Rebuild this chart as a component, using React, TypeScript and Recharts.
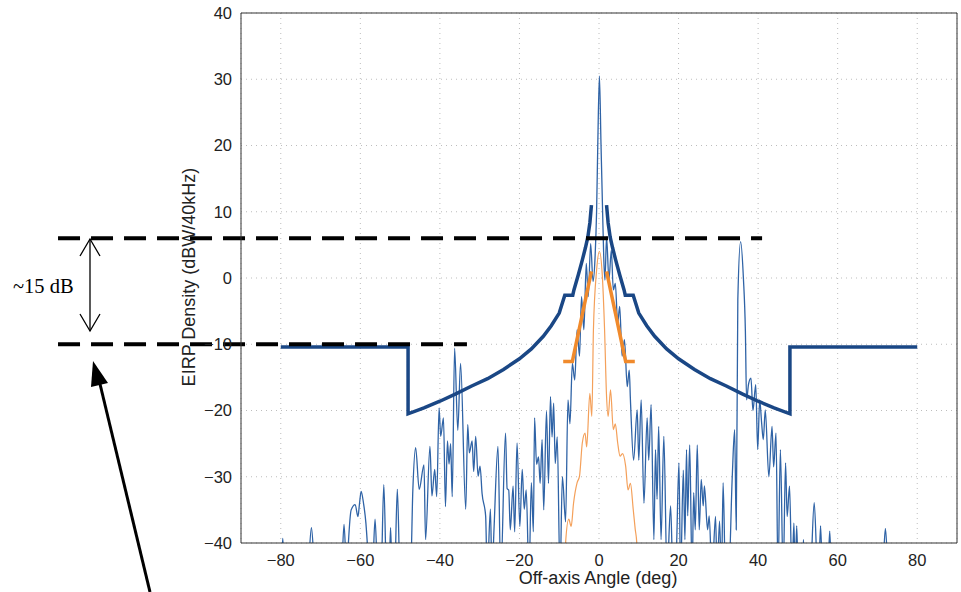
import React from "react";
import { CartesianGrid, Line, LineChart, ReferenceLine, XAxis, YAxis } from "recharts";

// thin blue: measured antenna pattern (deg, dBW/40kHz); -45 = below the floor
const blueAngles = [
  -82, -80, -79.5, -79, -73.3, -72.3, -71.3, -64.8, -64.1, -63.4, -63, -62.3, -61.3, -60.6, -60.2, -59.8, -59.2,
  -58.6, -58.2, -57.8, -57, -56.3, -55.6, -54.8, -54.1, -53.4, -52.8, -52.4, -52, -51.4, -50.7, -50, -47.4, -46.8,
  -46.1, -45.2, -44, -43.6, -42.5, -42, -41.3, -40.8, -40.2, -39.8, -39.1, -38.6, -38.1, -37.7, -37.3, -36.9, -36.3,
  -35.5, -34.8, -33.5, -33, -32.6, -31.9, -31.5, -31, -30.4, -29.9, -29.4, -28.5, -28.1, -27.3, -26.9, -26.4, -25.4,
  -24.7, -23.5, -23.1, -22.7, -22.3, -21.6, -21.2, -20.6, -19.9, -19.3, -18.8, -18.3, -17.6, -17, -16.5, -16.2,
  -15.7, -15.2, -14.8, -14.3, -13.9, -13.2, -12.7, -12.2, -11.8, -11.4, -11, -10.5, -9.8, -9.2, -8.4, -7.8, -7.3,
  -6.7, -6.1, -5.5, -4.9, -4.4, -3.8, -3.2, -2.7, -2.1, -1.5, -1, -0.6, -0.3, 0.1, 0.5, 0.9, 1.2, 1.5, 1.9, 2.5, 3.1,
  3.6, 4.1, 4.7, 5.2, 5.8, 6.4, 7.1, 7.6, 7.9, 8.7, 9.6, 10, 10.6, 11.3, 12.1, 12.5, 13.1, 13.8, 14.2, 14.6, 15,
  15.6, 16.3, 17.1, 18, 18.6, 19.4, 20.1, 20.5, 21.2, 21.6, 22, 22.3, 22.8, 23.4, 23.8, 24.2, 24.7, 25.2, 25.7, 26.2,
  26.5, 27.3, 27.7, 28.4, 29.3, 29.7, 30.3, 30.8, 31.2, 31.8, 32.6, 33.5, 34.1, 34.5, 34.9, 35.6, 36.3, 36.8, 37.1,
  37.6, 38.2, 38.7, 39.4, 39.9, 40.4, 40.9, 41.3, 41.8, 42.7, 43.5, 43.9, 44.5, 45, 45.6, 46.3, 46.9, 47.3, 47.9,
  48.5, 49, 49.3, 49.7, 50.1, 51, 51.4, 51.8, 53.1, 54.1, 55, 55.2, 55.7, 56.2, 57.5, 58, 58.5, 71.2, 72, 72.8, 80,
];
const blueLevels = [
  -45, -45, -39.3, -45, -45, -37.7, -45, -45, -37.2, -45, -40, -35, -34.2, -36, -34, -32.2, -34,
  -37, -40.5, -45, -45, -36.4, -45, -45, -31.2, -45, -45, -37.7, -45, -45, -31.9, -45, -45, -32,
  -25.6, -31.9, -28.2, -39.5, -25.4, -32.9, -28.9, -33, -19.6, -23.9, -21.1, -34.5, -24.6, -28.1, -25, -33, -10.6,
  -23, -12.9, -34.9, -22.1, -26.4, -24.6, -29.2, -23.9, -29.9, -28.4, -32.5, -35.9, -45, -34.9, -45, -38, -25.4,
  -45, -23.4, -31.8, -32, -38, -31.4, -38.3, -24.9, -37.5, -28.9, -34.9, -32, -45, -30.9, -38.3, -21.1,
  -28.1, -27, -31, -24.4, -35, -20.1, -31, -17.9, -24, -18.9, -28, -24, -45, -30, -36.8, -18.4, -22,
  -12.9, -15.4, -7.8, -11.8, -2.8, -7.8, 2.2, -2.8, 5.2, -0.5, 3, 10.2, 20.3, 30.5, 20.3, 10.2, 3, -0.3, 6.2, -0.3, 4.2,
  -1.8, -0.8, -6.8, -4.3, -11.8, -9.3, -16.4, -13.9, -18.4, -27.5, -19.9, -27.5, -18.4, -34, -21.1, -27.5, -19.1, -39.5, -25.9, -33.4, -22.4,
  -39.5, -23.9, -45, -34.4, -45, -42, -27.9, -45, -29, -39.5, -25.9, -35.9, -25.2, -45, -32.4, -38, -25.2, -38, -30.4, -34.4,
  -31.4, -38, -35.9, -45, -36, -45, -36.7, -45, -30.9, -45, -45, -30, -22.9, -38, -3.3, 5.5, 0, -8, -18.4,
  -16, -15.1, -20, -16.1, -25.9, -18.4, -22, -24.4, -19.9, -30, -22.4, -28.5, -23.4, -45, -25.9, -45, -27.9, -36, -31.4,
  -45, -37, -45, -37.4, -45, -45, -39.5, -45, -45, -33.9, -45, -45, -37.4, -45, -45, -38.2, -45, -45, -37.8, -45, -45,
];

// thin orange: second pattern
const orangeAngles = [
  -8.6, -8.4, -7.6, -7, -6.4, -5.5, -4.9, -4.2, -3.5, -3.1, -2.3, -1.8, -1.4, -0.6, 0.1, 0.8, 1.4, 1.9, 2.3, 2.9,
  3.6, 4.1, 4.7, 5.3, 5.9, 6.7, 7.3, 7.9, 8.6, 9.1, 9.5, 9.7,
];
const orangeLevels = [
  -45, -40, -36.4, -37.5, -34, -30.9, -29.9, -24.9, -23.4, -25.5, -17.4, -20.9, -7.8, 1.2, 4, 0.7, -7.8, -17.9, -20.9, -16.9,
  -22.9, -22, -24.9, -26.9, -26.5, -28.4, -32, -31, -34.9, -37.9, -40, -45,
];

// thick dark blue: EIRP density mask (null = gap at boresight)
const maskAngles = [
  -80, -48, -48, -44, -40, -36, -32, -28, -24, -20, -17, -14, -12, -10, -8.6, -6.6, -6.3, -5.2, -4.2, -3.4, -2.8, -2.3, -1.9,
  0,
  1.9, 2.3, 2.8, 3.4, 4.2, 5.2, 6.3, 6.6, 8.6, 10, 12, 14, 17, 20, 24, 28, 32, 36, 40, 44, 48, 48, 80,
];
const maskLevels = [
  -10.4, -10.4, -20.5, -19.6, -18.6, -17.5, -16.3, -15.2, -13.8, -12.2, -10.7, -8.8, -7.2, -5.3, -2.6, -2.6, -1.8, 0.5, 2.7, 4.6, 6.2, 8.3, 11,
  null,
  11, 8.3, 6.2, 4.6, 2.7, 0.5, -1.8, -2.6, -2.6, -5.3, -7.2, -8.8, -10.7, -12.2, -13.8, -15.2, -16.3, -17.5, -18.6, -19.6, -20.5, -10.4, -10.4,
];

// thick orange: second mask
const orangeMaskAngles = [-9, -6.7, -1.9, 0, 1.9, 6.7, 9];
const orangeMaskLevels = [-12.6, -12.6, 1, null, 1, -12.6, -12.6];

const xTicks = [-80, -60, -40, -20, 0, 20, 40, 60, 80];
const yTicks = [-40, -30, -20, -10, 0, 10, 20, 30, 40];

// annotation levels (dB) and extents (deg)
const upperLevel = 6;
const lowerLevel = -10;
const dashStart = -136;
const upperDashEnd = 41;
const lowerDashEnd = -33.2;

const zip = (xs: number[], ys: (number | null)[]) => xs.map((x, i) => ({ x, y: ys[i] }));

const font = "'Liberation Sans', Arial, sans-serif";
const fmt = (v: number) => (v < 0 ? `\u2212${-v}` : `${v}`);

export default function App() {
  return (
    <div style={{ position: "absolute", left: 0, top: 0, width: 961, height: 592, background: "#fff" }}>
      <LineChart width={961} height={592} margin={{ top: 13, right: 4, bottom: 0, left: 0 }}>
        <CartesianGrid stroke="#bdbdbd" strokeDasharray="1 4" />
        <XAxis
          type="number"
          dataKey="x"
          domain={[-90, 90]}
          ticks={xTicks}
          allowDataOverflow
          height={49}
          tickLine={false}
          tickMargin={5}
          tickFormatter={fmt}
          stroke="#333"
          tick={{ fontSize: 16.5, fill: "#222", fontFamily: font }}
        />
        <YAxis
          type="number"
          domain={[-40, 40]}
          ticks={yTicks}
          allowDataOverflow
          width={241}
          tickLine={false}
          tickMargin={3}
          tickFormatter={fmt}
          stroke="#333"
          tick={{ fontSize: 16.5, fill: "#222", fontFamily: font }}
        />
        <ReferenceLine y={40} stroke="#333" />
        <ReferenceLine x={90} stroke="#333" />
        <Line data={zip(blueAngles, blueLevels)} dataKey="y" type="monotone" stroke="#2f63a6" strokeWidth={1.3} dot={false} isAnimationActive={false} />
        <Line data={zip(orangeAngles, orangeLevels)} dataKey="y" type="monotone" stroke="#f4a05a" strokeWidth={1.2} dot={false} isAnimationActive={false} />
        <Line data={zip(maskAngles, maskLevels)} dataKey="y" stroke="#1a4785" strokeWidth={3.5} dot={false} isAnimationActive={false} />
        <Line data={zip(orangeMaskAngles, orangeMaskLevels)} dataKey="y" stroke="#f08a2c" strokeWidth={3.5} dot={false} isAnimationActive={false} />
        <ReferenceLine
          segment={[{ x: dashStart, y: upperLevel }, { x: upperDashEnd, y: upperLevel }]}
          ifOverflow="visible"
          stroke="#000"
          strokeWidth={4}
          strokeDasharray="22 11"
        />
        <ReferenceLine
          segment={[{ x: dashStart, y: lowerLevel }, { x: lowerDashEnd, y: lowerLevel }]}
          ifOverflow="visible"
          stroke="#000"
          strokeWidth={4}
          strokeDasharray="22 11"
        />
      </LineChart>
      <svg width={961} height={592} style={{ position: "absolute", left: 0, top: 0, pointerEvents: "none" }}>
        <text x={189} y={277} transform="rotate(-90 189 277)" textAnchor="middle" dominantBaseline="central" fontSize={18} fontFamily={font} fill="#222">
          EIRP Density (dBW/40kHz)
        </text>
        <text x={598} y={584} textAnchor="middle" fontSize={18} fontFamily={font} fill="#222">
          Off-axis Angle (deg)
        </text>
        <text x={13} y={293} fontSize={20.5} fontFamily="'Liberation Serif', 'Times New Roman', serif" fill="#000">
          ~15 dB
        </text>
        <g stroke="#000" strokeWidth={1.3} fill="none">
          <line x1={90} y1={239} x2={90} y2={331} />
          <polyline points="80,256 90,239 100,256" />
          <polyline points="80,314 90,331 100,314" />
        </g>
        <line x1={150} y1={592} x2={100} y2={384} stroke="#000" strokeWidth={3} />
        <polygon points="93,361 108,383 91,387" fill="#000" />
      </svg>
    </div>
  );
}
